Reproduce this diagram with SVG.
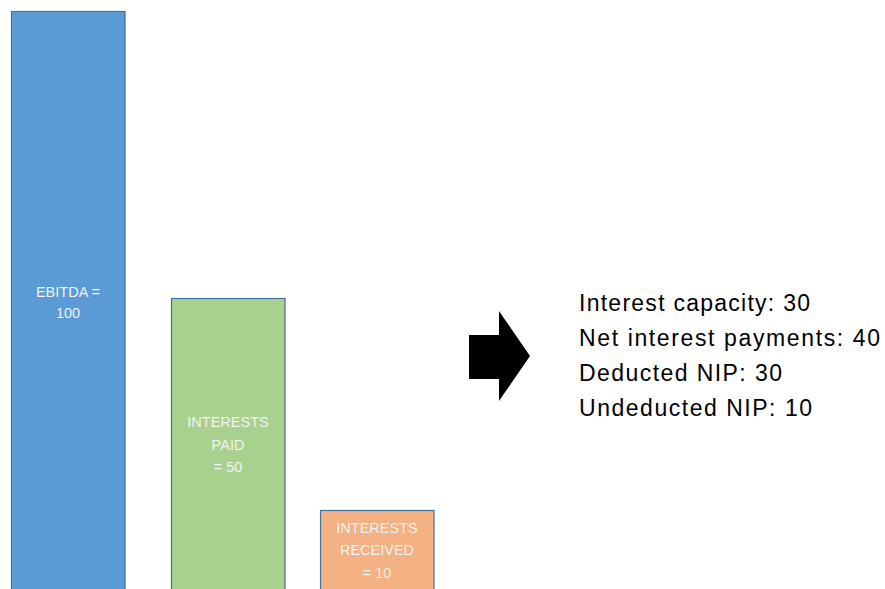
<svg xmlns="http://www.w3.org/2000/svg" width="885" height="589" viewBox="0 0 885 589">
<style>
.bar{stroke:#41719C;stroke-width:1.2}
.lbl{font-family:"Liberation Sans",Arial,sans-serif;font-size:14.5px;fill:#F2F2F2;text-anchor:middle}
.res{font-family:"Liberation Sans",Arial,sans-serif;font-size:23px;fill:#000}
</style>
<rect width="885" height="589" fill="#fff"/>
<g id="ebitda">
<rect class="bar" x="11.5" y="11.5" width="113.5" height="590" fill="#5B9BD5"/>
<text class="lbl" x="68" y="297">EBITDA =</text>
<text class="lbl" x="68" y="318">100</text>
</g>
<g id="interests-paid">
<rect class="bar" x="171.5" y="298.5" width="113.5" height="300" fill="#A9D18E"/>
<text class="lbl" x="228" y="427">INTERESTS</text>
<text class="lbl" x="228" y="450">PAID</text>
<text class="lbl" x="228" y="472">= 50</text>
</g>
<g id="interests-received">
<rect class="bar" x="320.5" y="510.5" width="113.5" height="90" fill="#F4B183"/>
<text class="lbl" x="377" y="533">INTERESTS</text>
<text class="lbl" x="377" y="555">RECEIVED</text>
<text class="lbl" x="377" y="578">= 10</text>
</g>
<g id="connectors">
<polygon points="469,335 499,335 499,311 530,356 499,401 499,379 469,379" fill="#000"/>
</g>
<g id="results">
<text class="res" x="579" y="311" textLength="231" lengthAdjust="spacing">Interest capacity: 30</text>
<text class="res" x="579" y="346" textLength="301" lengthAdjust="spacing">Net interest payments: 40</text>
<text class="res" x="579" y="381" textLength="203" lengthAdjust="spacing">Deducted NIP: 30</text>
<text class="res" x="579" y="416" textLength="233" lengthAdjust="spacing">Undeducted NIP: 10</text>
</g>
</svg>
